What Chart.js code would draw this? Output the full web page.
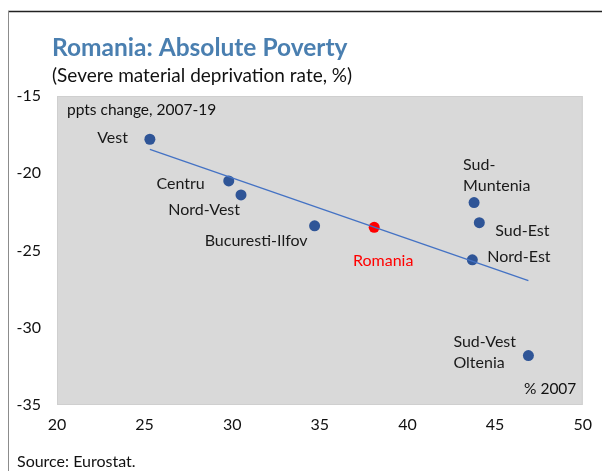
<!DOCTYPE html>
<html>
<head>
<meta charset="utf-8">
<script src="https://cdn.jsdelivr.net/npm/chart.js@4/dist/chart.umd.min.js"></script>
<style>
  html, body { margin: 0; padding: 0; background: #fff; }
  #wrap { width: 602px; height: 471px; position: relative; }
</style>
</head>
<body>
<div id="wrap"><canvas id="poverty-chart"></canvas></div>
<script>
// data
var regions = ['Vest', 'Centru', 'Nord-Vest', 'Bucuresti-Ilfov', 'Romania', 'Sud-Muntenia', 'Sud-Est', 'Nord-Est', 'Sud-Vest Oltenia'];
var rate2007 = [25.3, 29.8, 30.5, 34.7, 38.1, 43.8, 44.1, 43.7, 46.9];     // % 2007
var change0719 = [-17.8, -20.5, -21.4, -23.4, -23.5, -21.9, -23.2, -25.6, -31.8]; // ppts change 2007-19
var trendX = [25.3, 46.9];
var trendY = [-18.45, -26.95];
var xTicks = [20, 25, 30, 35, 40, 45, 50];
var yTicks = [-15, -20, -25, -30, -35];

var FONT = 'Lato, "Open Sans", sans-serif';
var BLUE = '#2f5597';
var RED = '#ff0000';

// label placement (pixel offsets from each point)
var labelPos = {
  'Vest': { dx: -22, dy: -1, align: 'right' },
  'Centru': { dx: -24, dy: 3, align: 'right' },
  'Nord-Vest': { dx: -1, dy: 15, align: 'right' },
  'Bucuresti-Ilfov': { dx: -7, dy: 15, align: 'right' },
  'Romania': { dx: 9, dy: 34, align: 'center' },
  'Sud-Muntenia': { dx: -11, dy: -38, align: 'left', lines: ['Sud-', 'Muntenia'] },
  'Sud-Est': { dx: 16, dy: 8, align: 'left' },
  'Nord-Est': { dx: 15, dy: -3, align: 'left' },
  'Sud-Vest Oltenia': { dx: -75, dy: -14, align: 'left', lines: ['Sud-Vest', 'Oltenia'] }
};

var points = regions.map(function (r, i) { return { x: rate2007[i], y: change0719[i] }; });
var trend = trendX.map(function (x, i) { return { x: x, y: trendY[i] }; });

var decor = {
  id: 'decor',
  beforeDraw: function (chart) {
    var c = chart.ctx, a = chart.chartArea;
    c.save();
    c.fillStyle = '#d9d9d9';
    c.fillRect(a.left, a.top, a.right - a.left, a.bottom - a.top);
    c.strokeStyle = '#cfcfcf';
    c.lineWidth = 1;
    c.strokeRect(a.left + 0.5, a.top + 0.5, a.right - a.left - 1, a.bottom - a.top - 1);
    // frame
    c.strokeStyle = '#222';
    c.lineWidth = 1.5;
    c.beginPath(); c.moveTo(8, 11.5); c.lineTo(602, 11.5); c.stroke();
    c.strokeStyle = '#8c8c8c';
    c.lineWidth = 1;
    c.beginPath(); c.moveTo(8.5, 11); c.lineTo(8.5, 471); c.stroke();
    c.restore();
  },
  afterDraw: function (chart) {
    var c = chart.ctx;
    c.save();
    c.textBaseline = 'middle';
    c.fillStyle = '#4a7fb0';
    c.font = 'bold 24.5px ' + FONT;
    c.textAlign = 'left';
    c.fillText('Romania: Absolute Poverty', 52, 48);
    c.fillStyle = '#111';
    c.font = '19px ' + FONT;
    c.fillText('(Severe material deprivation rate, %)', 52, 76);
    c.font = '15.5px ' + FONT;
    c.fillText('ppts change, 2007-19', 67, 110);
    c.fillText('% 2007', 524, 389);
    c.font = '16px ' + FONT;
    c.fillText('Source: Eurostat.', 17, 462);

    var meta = chart.getDatasetMeta(1);
    c.font = '16px ' + FONT;
    regions.forEach(function (r, i) {
      var el = meta.data[i], p = labelPos[r];
      c.fillStyle = r === 'Romania' ? RED : '#1a1a1a';
      c.textAlign = p.align;
      var lines = p.lines || [r];
      lines.forEach(function (t, k) {
        c.fillText(t, el.x + p.dx, el.y + p.dy + k * 21);
      });
    });
    c.restore();
  }
};

var ctx = document.getElementById('poverty-chart').getContext('2d');
var myChart = new Chart(ctx, {
  type: 'scatter',
  data: {
    datasets: [{
      type: 'line',
      label: 'Trend',
      data: trend,
      borderColor: '#4472c4',
      borderWidth: 1.3,
      pointRadius: 0,
      fill: false
    }, {
      label: 'Regions',
      data: points,
      backgroundColor: regions.map(function (r) { return r === 'Romania' ? RED : BLUE; }),
      borderWidth: 0,
      pointRadius: 5.5
    }]
  },
  options: {
    responsive: true,
    maintainAspectRatio: false,
    animation: false,
    layout: { padding: { left: 0, right: 18, top: 96, bottom: 0 } },
    scales: {
      x: {
        type: 'linear',
        min: 20, max: 50,
        afterBuildTicks: function (s) { s.ticks = xTicks.map(function (v) { return { value: v }; }); },
        grid: { display: false, drawTicks: false },
        border: { display: false },
        ticks: { color: '#111', font: { family: FONT, size: 16 }, padding: 10, maxRotation: 0 },
        afterFit: function (s) { s.height = 66; }
      },
      y: {
        type: 'linear',
        min: -35, max: -15,
        afterBuildTicks: function (s) { s.ticks = yTicks.map(function (v) { return { value: v }; }); },
        grid: { display: false, drawTicks: false },
        border: { display: false },
        ticks: { color: '#111', font: { family: FONT, size: 16 }, padding: 16 },
        afterFit: function (s) { s.width = 57; }
      }
    },
    plugins: {
      legend: { display: false },
      tooltip: { enabled: false }
    }
  },
  plugins: [decor]
});
</script>
</body>
</html>
